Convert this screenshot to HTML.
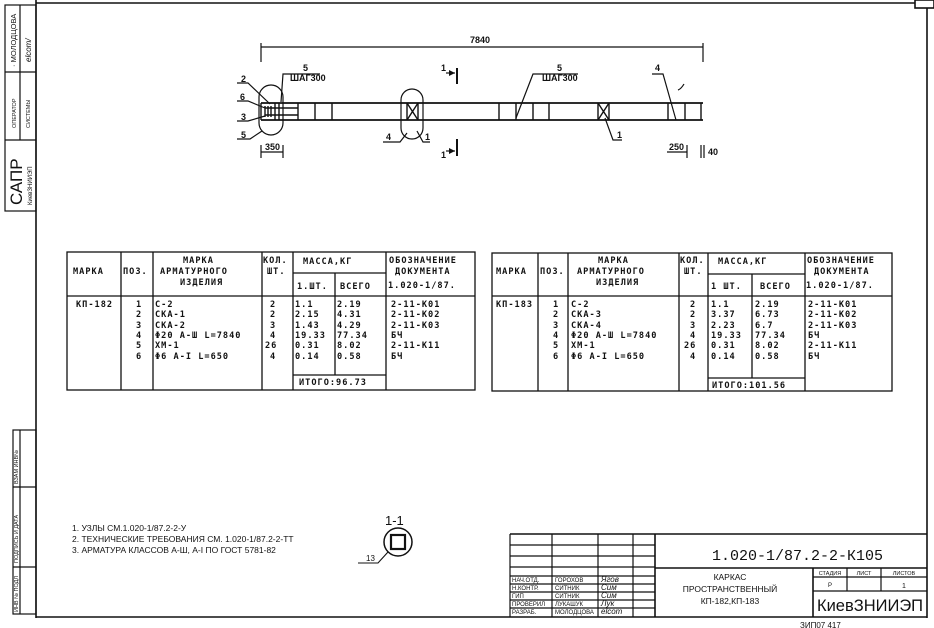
<!DOCTYPE html>
<html><head><meta charset="utf-8"><style>
body{margin:0;background:#fff;}
svg{display:block}
text{font-family:"Liberation Sans Narrow","Liberation Sans","DejaVu Sans",sans-serif;fill:#111;stroke:none;}
.t{font-size:9px;font-weight:bold;}
.m text,text.m{font-family:"DejaVu Sans Mono","Liberation Mono",monospace;font-size:8.6px;letter-spacing:1px;font-weight:bold;}
</style></head><body>
<svg width="934" height="628" viewBox="0 0 934 628" xmlns="http://www.w3.org/2000/svg" stroke="#111" fill="none">
<g stroke-width="1.6">
<line x1="36" y1="0" x2="36" y2="618"/>
<line x1="36" y1="3" x2="915" y2="3"/>
<line x1="927" y1="8" x2="927" y2="618"/>
<line x1="36" y1="617" x2="927" y2="617"/>
<rect x="915" y="0" width="19" height="8"/>
</g>
<g stroke-width="1.2">
<rect x="5" y="5" width="31" height="206"/>
<line x1="5" y1="72" x2="36" y2="72"/><line x1="5" y1="140" x2="36" y2="140"/>
<line x1="20" y1="5" x2="20" y2="72"/><line x1="20" y1="72" x2="20" y2="140"/>
<rect x="13" y="430" width="23" height="184"/>
<line x1="13" y1="487" x2="36" y2="487"/><line x1="13" y1="567" x2="36" y2="567"/>
<line x1="20" y1="430" x2="20" y2="614"/>
</g>
<g stroke="none">
<text transform="translate(16,67) rotate(-90)" style="font-size:7.5px">· МОЛОДЦОВА</text>
<text transform="translate(31,62) rotate(-90)" style="font-size:8px;font-style:italic">elcom/</text>
<text transform="translate(16,128) rotate(-90)" style="font-size:5.5px">ОПЕРАТОР</text>
<text transform="translate(30,128) rotate(-90)" style="font-size:5.5px">СИСТЕМЫ</text>
<text transform="translate(22,205) rotate(-90)" style="font-size:17px">САПР</text>
<text transform="translate(32,205) rotate(-90)" style="font-size:6px">КиевЗНИИЭП</text>
<text transform="translate(18,484) rotate(-90)" style="font-size:5.5px">ВЗАМ ИНВ№</text>
<text transform="translate(18,563) rotate(-90)" style="font-size:5.5px">ПОДПИСЬ И ДАТА</text>
<text transform="translate(18,612) rotate(-90)" style="font-size:5.5px">ИНВ № ПОДЛ</text>
</g>

<g stroke-width="1.2">
<line x1="261" y1="47" x2="703" y2="47"/>
<line x1="261" y1="43" x2="261" y2="62"/><line x1="703" y1="43" x2="703" y2="62"/>
<line x1="261" y1="103" x2="703" y2="103" stroke-width="1.8"/>
<line x1="261" y1="120" x2="703" y2="120" stroke-width="1.8"/>
<g stroke-width="1.4">
<line x1="261" y1="103" x2="261" y2="120"/><line x1="298" y1="103" x2="298" y2="120"/>
<line x1="315" y1="103" x2="315" y2="120"/><line x1="332" y1="103" x2="332" y2="120"/>
<line x1="407" y1="103" x2="407" y2="120"/><line x1="418" y1="103" x2="418" y2="120"/>
<line x1="407" y1="103" x2="418" y2="120"/><line x1="418" y1="103" x2="407" y2="120"/>
<line x1="499" y1="103" x2="499" y2="120"/><line x1="516" y1="103" x2="516" y2="120"/>
<line x1="533" y1="103" x2="533" y2="120"/><line x1="549" y1="103" x2="549" y2="120"/>
<line x1="598" y1="103" x2="598" y2="120"/><line x1="609" y1="103" x2="609" y2="120"/>
<line x1="598" y1="103" x2="609" y2="120"/><line x1="609" y1="103" x2="598" y2="120"/>
<line x1="668" y1="103" x2="668" y2="120"/><line x1="685" y1="103" x2="685" y2="120"/>
<line x1="701" y1="103" x2="701" y2="120"/>
<line x1="265" y1="108" x2="298" y2="108"/><line x1="265" y1="115" x2="298" y2="115"/>
<line x1="265" y1="106" x2="265" y2="117"/><line x1="268" y1="106" x2="268" y2="117"/><line x1="271" y1="106" x2="271" y2="117"/>
<line x1="275" y1="103" x2="275" y2="120"/><line x1="279" y1="103" x2="279" y2="120"/>
</g>
<rect x="259" y="85" width="24" height="50" rx="12"/>
<rect x="401" y="89" width="22" height="50" rx="11"/>
<polyline points="237,83 248,83 270,104"/>
<polyline points="237,101 248,101 265,108"/>
<polyline points="237,121 248,121 265,116"/>
<polyline points="237,139 250,139 262,131"/>
<polyline points="281,102 283,74 320,74"/>
<polyline points="516,118 533,74 578,74"/>
<polyline points="383,142 400,142 407,133"/>
<polyline points="417,131 423,142 430,142"/>
<polyline points="605,118 613,140 622,140"/>
<polyline points="652,74 663,74 676,120"/>
<path d="M684,84 q-3,5 -6,6"/>
<line x1="457" y1="68" x2="457" y2="84" stroke-width="2"/><line x1="446" y1="73" x2="455" y2="73"/>
<line x1="457" y1="139" x2="457" y2="156" stroke-width="2"/><line x1="446" y1="151" x2="455" y2="151"/>
<line x1="261" y1="152" x2="283" y2="152"/><line x1="261" y1="145" x2="261" y2="158"/><line x1="283" y1="145" x2="283" y2="158"/>
<line x1="667" y1="152" x2="687" y2="152"/><line x1="687" y1="145" x2="687" y2="158"/>
<line x1="701" y1="145" x2="701" y2="158"/><line x1="704" y1="145" x2="704" y2="158"/>
</g>
<g stroke="none" fill="#111">
<polygon points="449,70 455,73 449,76"/><polygon points="449,148 455,151 449,154"/>
<text class="t" x="470" y="43">7840</text>
<text class="t" x="303" y="71">5</text><text class="t" x="290" y="81">ШАГ300</text>
<text class="t" x="557" y="71">5</text><text class="t" x="542" y="81">ШАГ300</text>
<text class="t" x="241" y="82">2</text><text class="t" x="240" y="100">6</text>
<text class="t" x="241" y="120">3</text><text class="t" x="241" y="138">5</text>
<text class="t" x="386" y="140">4</text><text class="t" x="425" y="140">1</text>
<text class="t" x="617" y="138">1</text><text class="t" x="655" y="71">4</text>
<text class="t" x="441" y="71">1</text><text class="t" x="441" y="158">1</text>
<text class="t" x="265" y="150">350</text><text class="t" x="669" y="150">250</text><text class="t" x="708" y="155">40</text>
</g>

<g stroke-width="1.3">
<rect x="67" y="252" width="408" height="138"/>
<line x1="121" y1="252" x2="121" y2="390"/><line x1="153" y1="252" x2="153" y2="390"/>
<line x1="262" y1="252" x2="262" y2="390"/><line x1="293" y1="252" x2="293" y2="390"/>
<line x1="335" y1="273" x2="335" y2="375"/><line x1="386" y1="252" x2="386" y2="390"/>
<line x1="67" y1="296" x2="475" y2="296"/><line x1="293" y1="273" x2="386" y2="273"/>
<line x1="293" y1="375" x2="386" y2="375"/>
</g>
<g stroke="none" class="m">
<text x="73" y="274">МАРКА</text><text x="123" y="274">ПОЗ.</text>
<text x="183" y="263">МАРКА</text><text x="160" y="274">АРМАТУРНОГО</text><text x="180" y="285">ИЗДЕЛИЯ</text>
<text x="263" y="263">КОЛ.</text><text x="267" y="274">ШТ.</text>
<text x="303" y="264">МАССА,КГ</text><text x="297" y="289">1.ШТ.</text><text x="340" y="289">ВСЕГО</text>
<text x="389" y="263">ОБОЗНАЧЕНИЕ</text><text x="395" y="274">ДОКУМЕНТА</text><text x="388" y="288">1.020-1/87.</text>
<text x="76" y="307">КП-182</text>
<text x="136" y="307">1</text><text x="136" y="317">2</text><text x="136" y="328">3</text><text x="136" y="338">4</text><text x="136" y="348">5</text><text x="136" y="359">6</text>
<text x="155" y="307">С-2</text><text x="155" y="317">СКА-1</text><text x="155" y="328">СКА-2</text><text x="155" y="338">Φ20 А-Ш L=7840</text><text x="155" y="348">ХМ-1</text><text x="155" y="359">Φ6 А-I L=650</text>
<text x="270" y="307">2</text><text x="270" y="317">2</text><text x="270" y="328">3</text><text x="270" y="338">4</text><text x="265" y="348">26</text><text x="270" y="359">4</text>
<text x="295" y="307">1.1</text><text x="295" y="317">2.15</text><text x="295" y="328">1.43</text><text x="295" y="338">19.33</text><text x="295" y="348">0.31</text><text x="295" y="359">0.14</text>
<text x="337" y="307">2.19</text><text x="337" y="317">4.31</text><text x="337" y="328">4.29</text><text x="337" y="338">77.34</text><text x="337" y="348">8.02</text><text x="337" y="359">0.58</text>
<text x="299" y="385">ИТОГО:96.73</text>
<text x="391" y="307">2-11-К01</text><text x="391" y="317">2-11-К02</text><text x="391" y="328">2-11-К03</text><text x="391" y="338">БЧ</text><text x="391" y="348">2-11-К11</text><text x="391" y="359">БЧ</text>
</g>

<g stroke-width="1.3">
<rect x="492" y="253" width="400" height="138"/>
<line x1="538" y1="253" x2="538" y2="391"/><line x1="568" y1="253" x2="568" y2="391"/>
<line x1="679" y1="253" x2="679" y2="391"/><line x1="708" y1="253" x2="708" y2="391"/>
<line x1="752" y1="274" x2="752" y2="378"/><line x1="805" y1="253" x2="805" y2="391"/>
<line x1="492" y1="296" x2="892" y2="296"/><line x1="708" y1="274" x2="805" y2="274"/>
<line x1="708" y1="378" x2="805" y2="378"/>
</g>
<g stroke="none" class="m">
<text x="496" y="274">МАРКА</text><text x="540" y="274">ПОЗ.</text>
<text x="598" y="263">МАРКА</text><text x="577" y="274">АРМАТУРНОГО</text><text x="596" y="285">ИЗДЕЛИЯ</text>
<text x="680" y="263">КОЛ.</text><text x="684" y="274">ШТ.</text>
<text x="718" y="264">МАССА,КГ</text><text x="711" y="289">1 ШТ.</text><text x="760" y="289">ВСЕГО</text>
<text x="807" y="263">ОБОЗНАЧЕНИЕ</text><text x="814" y="274">ДОКУМЕНТА</text><text x="806" y="288">1.020-1/87.</text>
<text x="496" y="307">КП-183</text>
<text x="553" y="307">1</text><text x="553" y="317">2</text><text x="553" y="328">3</text><text x="553" y="338">4</text><text x="553" y="348">5</text><text x="553" y="359">6</text>
<text x="571" y="307">С-2</text><text x="571" y="317">СКА-3</text><text x="571" y="328">СКА-4</text><text x="571" y="338">Φ20 А-Ш L=7840</text><text x="571" y="348">ХМ-1</text><text x="571" y="359">Φ6 А-I L=650</text>
<text x="690" y="307">2</text><text x="690" y="317">2</text><text x="690" y="328">3</text><text x="690" y="338">4</text><text x="684" y="348">26</text><text x="690" y="359">4</text>
<text x="711" y="307">1.1</text><text x="711" y="317">3.37</text><text x="711" y="328">2.23</text><text x="711" y="338">19.33</text><text x="711" y="348">0.31</text><text x="711" y="359">0.14</text>
<text x="755" y="307">2.19</text><text x="755" y="317">6.73</text><text x="755" y="328">6.7</text><text x="755" y="338">77.34</text><text x="755" y="348">8.02</text><text x="755" y="359">0.58</text>
<text x="712" y="388">ИТОГО:101.56</text>
<text x="808" y="307">2-11-К01</text><text x="808" y="317">2-11-К02</text><text x="808" y="328">2-11-К03</text><text x="808" y="338">БЧ</text><text x="808" y="348">2-11-К11</text><text x="808" y="359">БЧ</text>
</g>

<g stroke="none" style="font-size:8.5px">
<text x="72" y="531">1. УЗЛЫ СМ.1.020-1/87.2-2-У</text>
<text x="72" y="542">2. ТЕХНИЧЕСКИЕ ТРЕБОВАНИЯ СМ. 1.020-1/87.2-2-ТТ</text>
<text x="72" y="553">3. АРМАТУРА КЛАССОВ А-Ш, А-I ПО ГОСТ 5781-82</text>
</g>

<circle cx="398" cy="542" r="14" stroke-width="1.5"/>
<rect x="391" y="535" width="14" height="14" stroke-width="2.2"/>
<polyline points="358,563 378,563 388,552" stroke-width="1.1"/>
<g stroke="none"><text x="385" y="525" style="font-size:13px">1-1</text><text x="366" y="561" style="font-size:8px">13</text></g>

<g stroke-width="1.2">
<line x1="510" y1="534" x2="927" y2="534" stroke-width="1.6"/>
<line x1="510" y1="534" x2="510" y2="617"/>
<line x1="552" y1="534" x2="552" y2="617"/><line x1="598" y1="534" x2="598" y2="617"/>
<line x1="633" y1="534" x2="633" y2="617"/><line x1="655" y1="534" x2="655" y2="617" stroke-width="1.6"/>
<line x1="510" y1="545" x2="655" y2="545"/><line x1="510" y1="556" x2="655" y2="556"/>
<line x1="510" y1="567" x2="655" y2="567"/><line x1="510" y1="576" x2="655" y2="576"/>
<line x1="510" y1="584" x2="655" y2="584"/><line x1="510" y1="592" x2="655" y2="592"/>
<line x1="510" y1="600" x2="655" y2="600"/><line x1="510" y1="608" x2="655" y2="608"/>
<line x1="655" y1="568" x2="927" y2="568" stroke-width="1.6"/>
<line x1="813" y1="568" x2="813" y2="617" stroke-width="1.6"/>
<line x1="847" y1="568" x2="847" y2="591"/><line x1="881" y1="568" x2="881" y2="591"/>
<line x1="813" y1="577" x2="927" y2="577"/><line x1="813" y1="591" x2="927" y2="591"/>
</g>
<g stroke="none">
<text x="712" y="560" style="font-family:'Liberation Mono',monospace;font-size:15px">1.020-1/87.2-2-К105</text>
<text x="730" y="580" text-anchor="middle" style="font-size:8.5px">КАРКАС</text>
<text x="730" y="592" text-anchor="middle" style="font-size:8.5px">ПРОСТРАНСТВЕННЫЙ</text>
<text x="730" y="604" text-anchor="middle" style="font-size:8.5px">КП-182,КП-183</text>
<text x="830" y="575" text-anchor="middle" style="font-size:5.5px">СТАДИЯ</text>
<text x="864" y="575" text-anchor="middle" style="font-size:5.5px">ЛИСТ</text>
<text x="904" y="575" text-anchor="middle" style="font-size:5.5px">ЛИСТОВ</text>
<text x="830" y="587" text-anchor="middle" style="font-size:6px">Р</text>
<text x="904" y="588" text-anchor="middle" style="font-size:7px">1</text>
<text x="870" y="611" text-anchor="middle" style="font-size:16.5px">КиевЗНИИЭП</text>
<g style="font-size:6px">
<text x="512" y="582">НАЧ.ОТД.</text><text x="555" y="582">ГОРОХОВ</text>
<text x="512" y="590">Н.КОНТР.</text><text x="555" y="590">СИТНИК</text>
<text x="512" y="598">ГИП</text><text x="555" y="598">СИТНИК</text>
<text x="512" y="606">ПРОВЕРИЛ</text><text x="555" y="606">ЛУКАШУК</text>
<text x="512" y="614">РАЗРАБ.</text><text x="555" y="614">МОЛОДЦОВА</text>
</g>
<g style="font-size:8px;font-style:italic">
<text x="601" y="582">Ягов</text><text x="601" y="590">Сим</text><text x="601" y="598">Сим</text><text x="601" y="606">Лук</text><text x="601" y="614">elcom</text>
</g>
<text x="800" y="628" style="font-size:8px">ЗИП07 417</text>
</g>
</svg>
</body></html>
